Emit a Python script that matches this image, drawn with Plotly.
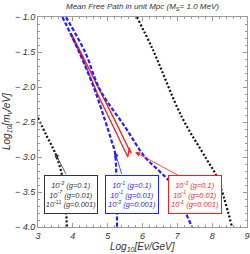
import plotly.graph_objects as go

# ---- data ----
black_right_x = [5.84, 6.30, 7.13, 7.85, 8.14, 8.57]
black_right_y = [-1.0, -1.47, -2.43, -3.04, -3.29, -4.0]

black_left_x = [3.0, 3.25, 3.49, 3.69, 3.78, 3.83]
black_left_y = [-2.44, -2.70, -2.94, -3.26, -3.6, -4.0]

blue_left_x = [3.70, 4.18, 4.62, 4.92, 5.10, 5.21, 5.25, 5.27]
blue_left_y = [-1.0, -1.5, -2.03, -2.47, -2.75, -2.94, -3.3, -4.0]

blue_right_x = [3.80, 4.35, 4.78, 5.50, 6.07, 6.50, 6.79, 7.42]
blue_right_y = [-1.0, -1.5, -2.04, -2.57, -3.0, -3.21, -3.36, -4.0]

red_x = [3.92, 4.26, 4.72, 5.15, 5.58, 5.62, 5.67, 5.25, 4.84, 4.30, 3.95]
red_y = [-1.23, -1.57, -2.11, -2.55, -3.0, -2.87, -2.95, -2.52, -2.11, -1.58, -1.23]

x_ticks = [3, 4, 5, 6, 7, 8, 9]
y_ticks = [-1.0, -1.5, -2.0, -2.5, -3.0, -3.5, -4.0]
y_ticktext = ["\u2212 1.0", "\u2212 1.5", "\u2212 2.0", "\u2212 2.5", "\u2212 3.0", "\u2212 3.5", "\u2212 4.0"]

black_labels = ["10<sup>-3</sup> (g=0.1)", "10<sup>-7</sup> (g=0.01)", "10<sup>-11</sup> (g=0.001)"]
blue_labels = ["10<sup>-1</sup> (g=0.1)", "10<sup>-1</sup> (g=0.01)", "10<sup>-3</sup> (g=0.001)"]
red_labels = ["10<sup>-3</sup> (g=0.1)", "10<sup>-1</sup> (g=0.01)", "10<sup>-1</sup> (g=0.001)"]

BLACK = "#111111"
BLUE = "#1f1fff"
RED = "#ff1a1a"
AXIS = "#9a9a9a"
FONT = "Liberation Sans"

fig = go.Figure()
fig.add_trace(go.Scatter(x=red_x, y=red_y, mode="lines",
                         line=dict(color=RED, width=1.3)))
fig.add_trace(go.Scatter(x=blue_left_x, y=blue_left_y, mode="lines", line_shape="spline",
                         line=dict(color=BLUE, width=2.2, dash="4px,2px")))
fig.add_trace(go.Scatter(x=blue_right_x, y=blue_right_y, mode="lines", line_shape="spline",
                         line=dict(color=BLUE, width=2.2, dash="4px,2px")))
fig.add_trace(go.Scatter(x=black_left_x, y=black_left_y, mode="lines", line_shape="spline",
                         line=dict(color=BLACK, width=2.2, dash="2px,2px")))
fig.add_trace(go.Scatter(x=black_right_x, y=black_right_y, mode="lines", line_shape="spline",
                         line=dict(color=BLACK, width=2.2, dash="2px,2px")))

# arrows
arrows = [
    (3.49, -2.94, 3.86, -3.30, "#333333"),
    (5.21, -2.93, 5.44, -3.30, BLUE),
    (5.79, -2.93, 7.13, -3.29, RED),
]
for x, y, ax, ay, c in arrows:
    fig.add_annotation(x=x, y=y, ax=ax, ay=ay, axref="x", ayref="y", text=" ",
                       showarrow=True, arrowhead=2, arrowsize=1.2, arrowwidth=0.8,
                       arrowcolor=c, font=dict(size=4))

boxes = [
    (3.95, black_labels, "#333333"),
    (5.71, blue_labels, BLUE),
    (7.51, red_labels, RED),
]
for bx, labels, c in boxes:
    fig.add_annotation(x=bx, y=-3.54, text="<br>".join(labels), showarrow=False,
                       font=dict(family=FONT, size=7.5, color=c, style="italic"),
                       bordercolor=c, borderwidth=1, bgcolor="white",
                       width=50, height=35, align="center")

# title and axis titles
fig.add_annotation(xref="paper", yref="paper", x=0.5, y=1.0, yshift=10,
                   text="Mean Free Path in unit Mpc (M<sub>S</sub>= 1.0 MeV)",
                   showarrow=False, yanchor="middle",
                   font=dict(family=FONT, size=8, color="#333333", style="italic"))
fig.add_annotation(xref="paper", yref="paper", x=0.5, y=0, yshift=-20,
                   text="Log<sub>10</sub>[Eν/GeV]", showarrow=False, yanchor="middle",
                   font=dict(family=FONT, size=10, color="#333333", style="italic"))
fig.add_annotation(xref="paper", yref="paper", x=0, xshift=-31, y=0.5,
                   text="Log<sub>10</sub>[m<sub>ν</sub>/eV]", showarrow=False, textangle=-90,
                   xanchor="center",
                   font=dict(family=FONT, size=10, color="#333333", style="italic"))

axis_common = dict(showgrid=False, zeroline=False, showline=True, linecolor=AXIS,
                   linewidth=1, mirror="ticks", ticks="inside", tickcolor=AXIS,
                   ticklen=4, tickwidth=1, automargin=False)
fig.update_xaxes(range=[3, 9], tickvals=x_ticks, ticktext=[str(v) for v in x_ticks],
                 tickfont=dict(family=FONT, size=9, color="#333333", style="italic"),
                 minor=dict(dtick=0.2, ticklen=2, tickcolor=AXIS, ticks="inside"),
                 **axis_common)
fig.update_yaxes(range=[-4, -1], tickvals=y_ticks, ticktext=y_ticktext,
                 tickfont=dict(family=FONT, size=9, color="#333333", style="italic"),
                 minor=dict(dtick=0.1, ticklen=2, tickcolor=AXIS, ticks="inside"),
                 **axis_common)

fig.update_layout(width=250, height=254, showlegend=False,
                  margin=dict(l=38, r=3, t=17, b=27),
                  plot_bgcolor="white", paper_bgcolor="white")

fig.write_html("out.html", config={"displayModeBar": False},
               post_script="document.body.style.margin='0';document.body.style.padding='0';")
